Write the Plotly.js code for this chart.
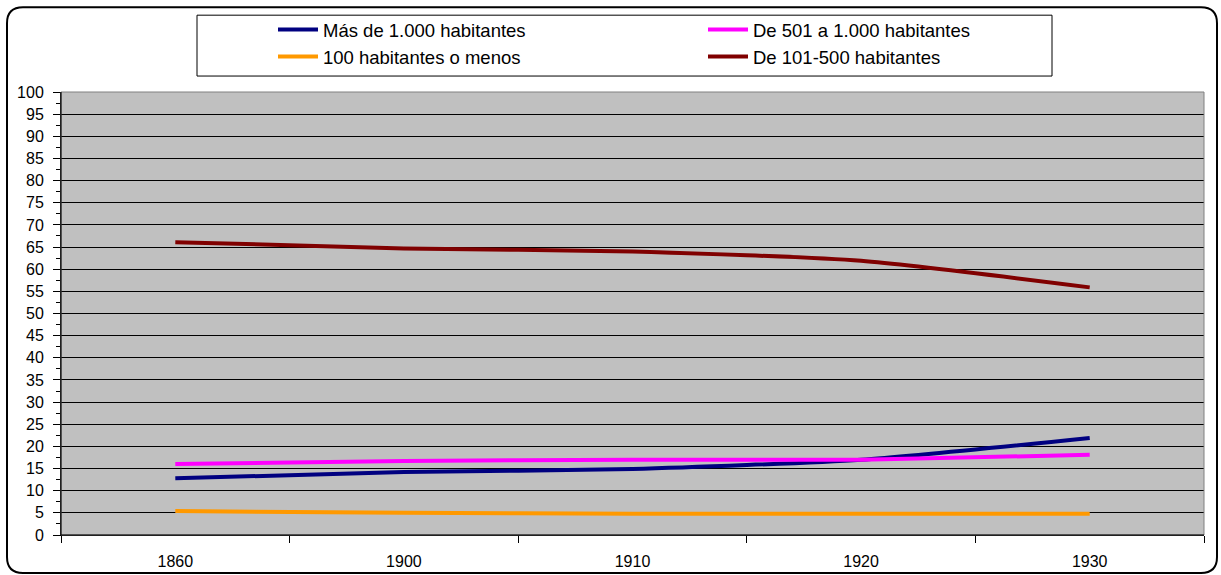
<!DOCTYPE html>
<html>
<head>
<meta charset="utf-8">
<script src="https://cdn.plot.ly/plotly-3.0.1.min.js"></script>
<style>html,body{margin:0;padding:0;background:#fff;}#chart{width:1221px;height:575px;}</style>
</head>
<body>
<div id="chart"></div>
<script>
const years = ['1860', '1900', '1910', '1920', '1930'];
const masDe1000 = [12.8, 14.2, 14.9, 17.0, 21.9];
const de501a1000 = [16.0, 16.7, 17.0, 17.0, 18.1];
const cienOMenos = [5.4, 5.0, 4.8, 4.8, 4.8];
const de101a500 = [66.1, 64.7, 64.0, 61.9, 55.9];

const seriesNames = ['Más de 1.000 habitantes', 'De 501 a 1.000 habitantes', '100 habitantes o menos', 'De 101-500 habitantes'];
const seriesColors = ['#000080', '#FF00FF', '#FF9900', '#800000'];
const seriesValues = [masDe1000, de501a1000, cienOMenos, de101a500];

const W = 1221, H = 575, ML = 61, MR = 17, MT = 91, MB = 40;
const PW = W - ML - MR, PH = H - MT - MB;
const fx = px => (px - ML) / PW;
const fy = py => (H - MB - py) / PH;

const traces = seriesNames.map((n, i) => ({
  type: 'scatter', mode: 'lines', name: n, x: years, y: seriesValues[i],
  line: {color: seriesColors[i], width: 4, shape: 'spline', smoothing: 0.6}
}));

function roundRect(x0, y0, x1, y1, r) {
  const p = (x, y) => fx(x) + ',' + fy(y);
  return 'M' + p(x0 + r, y0) + ' L' + p(x1 - r, y0) + ' Q' + p(x1, y0) + ' ' + p(x1, y0 + r) +
    ' L' + p(x1, y1 - r) + ' Q' + p(x1, y1) + ' ' + p(x1 - r, y1) +
    ' L' + p(x0 + r, y1) + ' Q' + p(x0, y1) + ' ' + p(x0, y1 - r) +
    ' L' + p(x0, y0 + r) + ' Q' + p(x0, y0) + ' ' + p(x0 + r, y0) + ' Z';
}

const layout = {
  width: W, height: H,
  margin: {l: ML, r: MR, t: MT, b: MB, pad: 0},
  paper_bgcolor: '#ffffff', plot_bgcolor: '#C0C0C0',
  font: {family: '"Liberation Sans", Arial, sans-serif', color: '#000', size: 16},
  showlegend: true,
  legend: {
    orientation: 'h', x: fx(273), y: fy(11), xanchor: 'left', yanchor: 'top',
    bgcolor: 'rgba(0,0,0,0)', borderwidth: 0,
    font: {size: 18.5}, itemwidth: 40, entrywidth: 375, traceorder: 'normal'
  },
  xaxis: {
    type: 'category', range: [-0.5, 4.5], tickson: 'boundaries',
    ticks: 'outside', ticklen: 7, tickcolor: '#000', tickwidth: 1,
    showline: true, linecolor: '#000', linewidth: 1, showgrid: false,
    tickfont: {size: 16}, ticklabelstandoff: 12
  },
  yaxis: {
    range: [0, 100], dtick: 5, tick0: 0, ticks: 'outside', ticklen: 7, tickcolor: '#000',
    showline: true, linecolor: '#000', linewidth: 1,
    showgrid: true, gridcolor: '#000', gridwidth: 1, zeroline: false,
    tickfont: {size: 16}, ticklabelstandoff: 6,
    minor: {dtick: 2.5, ticks: 'outside', ticklen: 4, tickcolor: '#000', showgrid: false}
  },
  shapes: [
    {type: 'rect', xref: 'paper', yref: 'paper', x0: 0, x1: 1, y0: 0, y1: 1,
     line: {color: '#808080', width: 1}, layer: 'above'},
    {type: 'line', xref: 'paper', yref: 'paper', x0: 0, x1: 0, y0: 0, y1: 1,
     line: {color: '#000', width: 1}, layer: 'above'},
    {type: 'line', xref: 'paper', yref: 'paper', x0: 0, x1: 1, y0: 0, y1: 0,
     line: {color: '#000', width: 1}, layer: 'above'},
    {type: 'rect', xref: 'paper', yref: 'paper', x0: fx(197), x1: fx(1052), y0: fy(75), y1: fy(14),
     line: {color: '#000', width: 1}, layer: 'below'},
    {type: 'path', xref: 'paper', yref: 'paper', path: roundRect(7, 6, 1217, 573, 16),
     line: {color: '#000', width: 2}, layer: 'below'}
  ]
};

Plotly.newPlot('chart', traces, layout, {displayModeBar: false, staticPlot: true});
</script>
</body>
</html>
